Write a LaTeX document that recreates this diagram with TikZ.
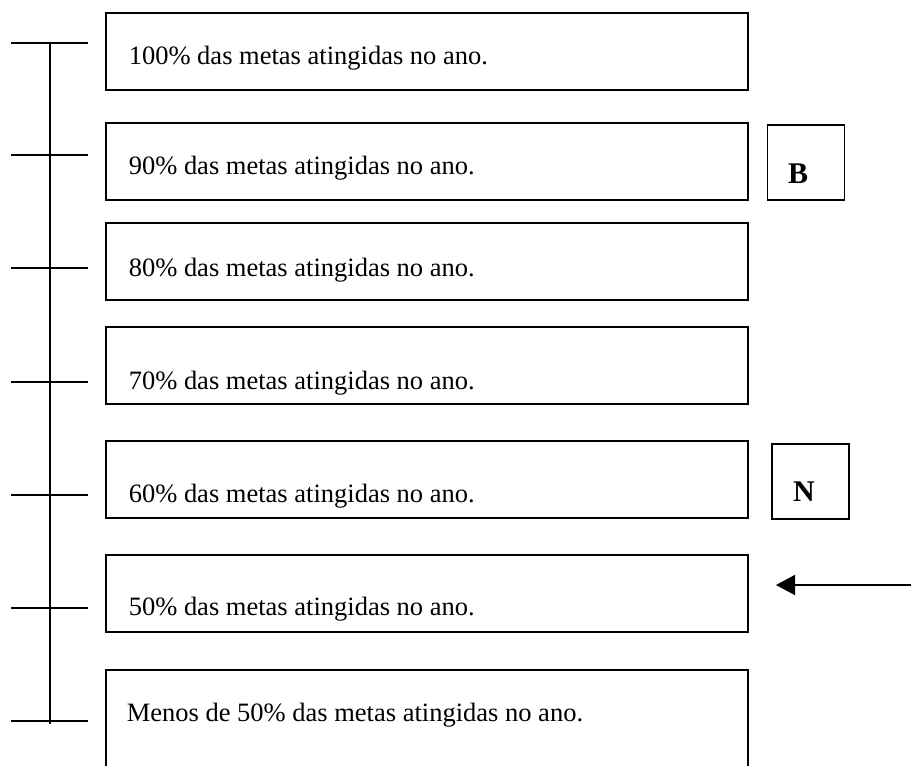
\documentclass[tikz,border=0pt]{standalone}
\usepackage{fontspec}
\setmainfont{Liberation Serif}
\usetikzlibrary{arrows.meta}
\begin{document}
\begin{tikzpicture}[x=1pt,y=-1pt,line width=1.6pt,
  lvlbox/.style={draw,line width=1.6pt},
  lvltext/.style={anchor=base west,inner sep=0pt,font=\fontsize{26.5}{30}\selectfont},
  tickline/.style={line width=1.6pt},
  tagbox/.style={draw,line width=1.6pt,minimum width=77pt,minimum height=75pt,inner sep=0pt},
  tagtext/.style={anchor=base,inner sep=0pt,font=\fontsize{30}{34}\selectfont\bfseries}]
\useasboundingbox (0,0) rectangle (911,766);
% vertical axis
\coordinate (vtop) at (50,43);
\coordinate (vbot) at (50,724);
\draw[tickline] (vtop) -- (vbot);
% ticks
\foreach \y/\n in {43/1,155/2,268/3,382/4,495/5,608/6,721/7}{
  \coordinate (tl\n) at (11,\y);
  \coordinate (tr\n) at (88,\y);
  \draw[tickline] (tl\n) -- (tr\n);
}
% boxes
\draw[lvlbox] (106,13) rectangle (748,90);
\draw[lvlbox] (106,123) rectangle (748,200);
\draw[lvlbox] (106,223) rectangle (748,300);
\draw[lvlbox] (106,327) rectangle (748,404);
\draw[lvlbox] (106,441) rectangle (748,518);
\draw[lvlbox] (106,555) rectangle (748,632);
\draw[lvlbox] (106,770) -- (106,670) -- (748,670) -- (748,770);
% texts
\node[lvltext] (t1) at (128,64) {100\% das metas atingidas no ano.};
\node[lvltext] (t2) at (128,174) {90\% das metas atingidas no ano.};
\node[lvltext] (t3) at (128,276) {80\% das metas atingidas no ano.};
\node[lvltext] (t4) at (128,389) {70\% das metas atingidas no ano.};
\node[lvltext] (t5) at (128,502) {60\% das metas atingidas no ano.};
\node[lvltext] (t6) at (128,615) {50\% das metas atingidas no ano.};
\node[lvltext] (t7) at (126,721) {Menos de 50\% das metas atingidas no ano.};
% tag boxes
\node[tagbox] (bbox) at (806,162.5) {};
\node[tagtext] (btext) at (798,183) {B};
\node[tagbox] (nbox) at (810.5,481.5) {};
\node[tagtext] (ntext) at (804,501) {N};
% arrow
\coordinate (astart) at (911,585);
\coordinate (aend) at (776,585);
\draw[line width=1.6pt,-{Triangle[length=19pt,width=20pt]}] (astart) -- (aend);
\end{tikzpicture}
\end{document}
